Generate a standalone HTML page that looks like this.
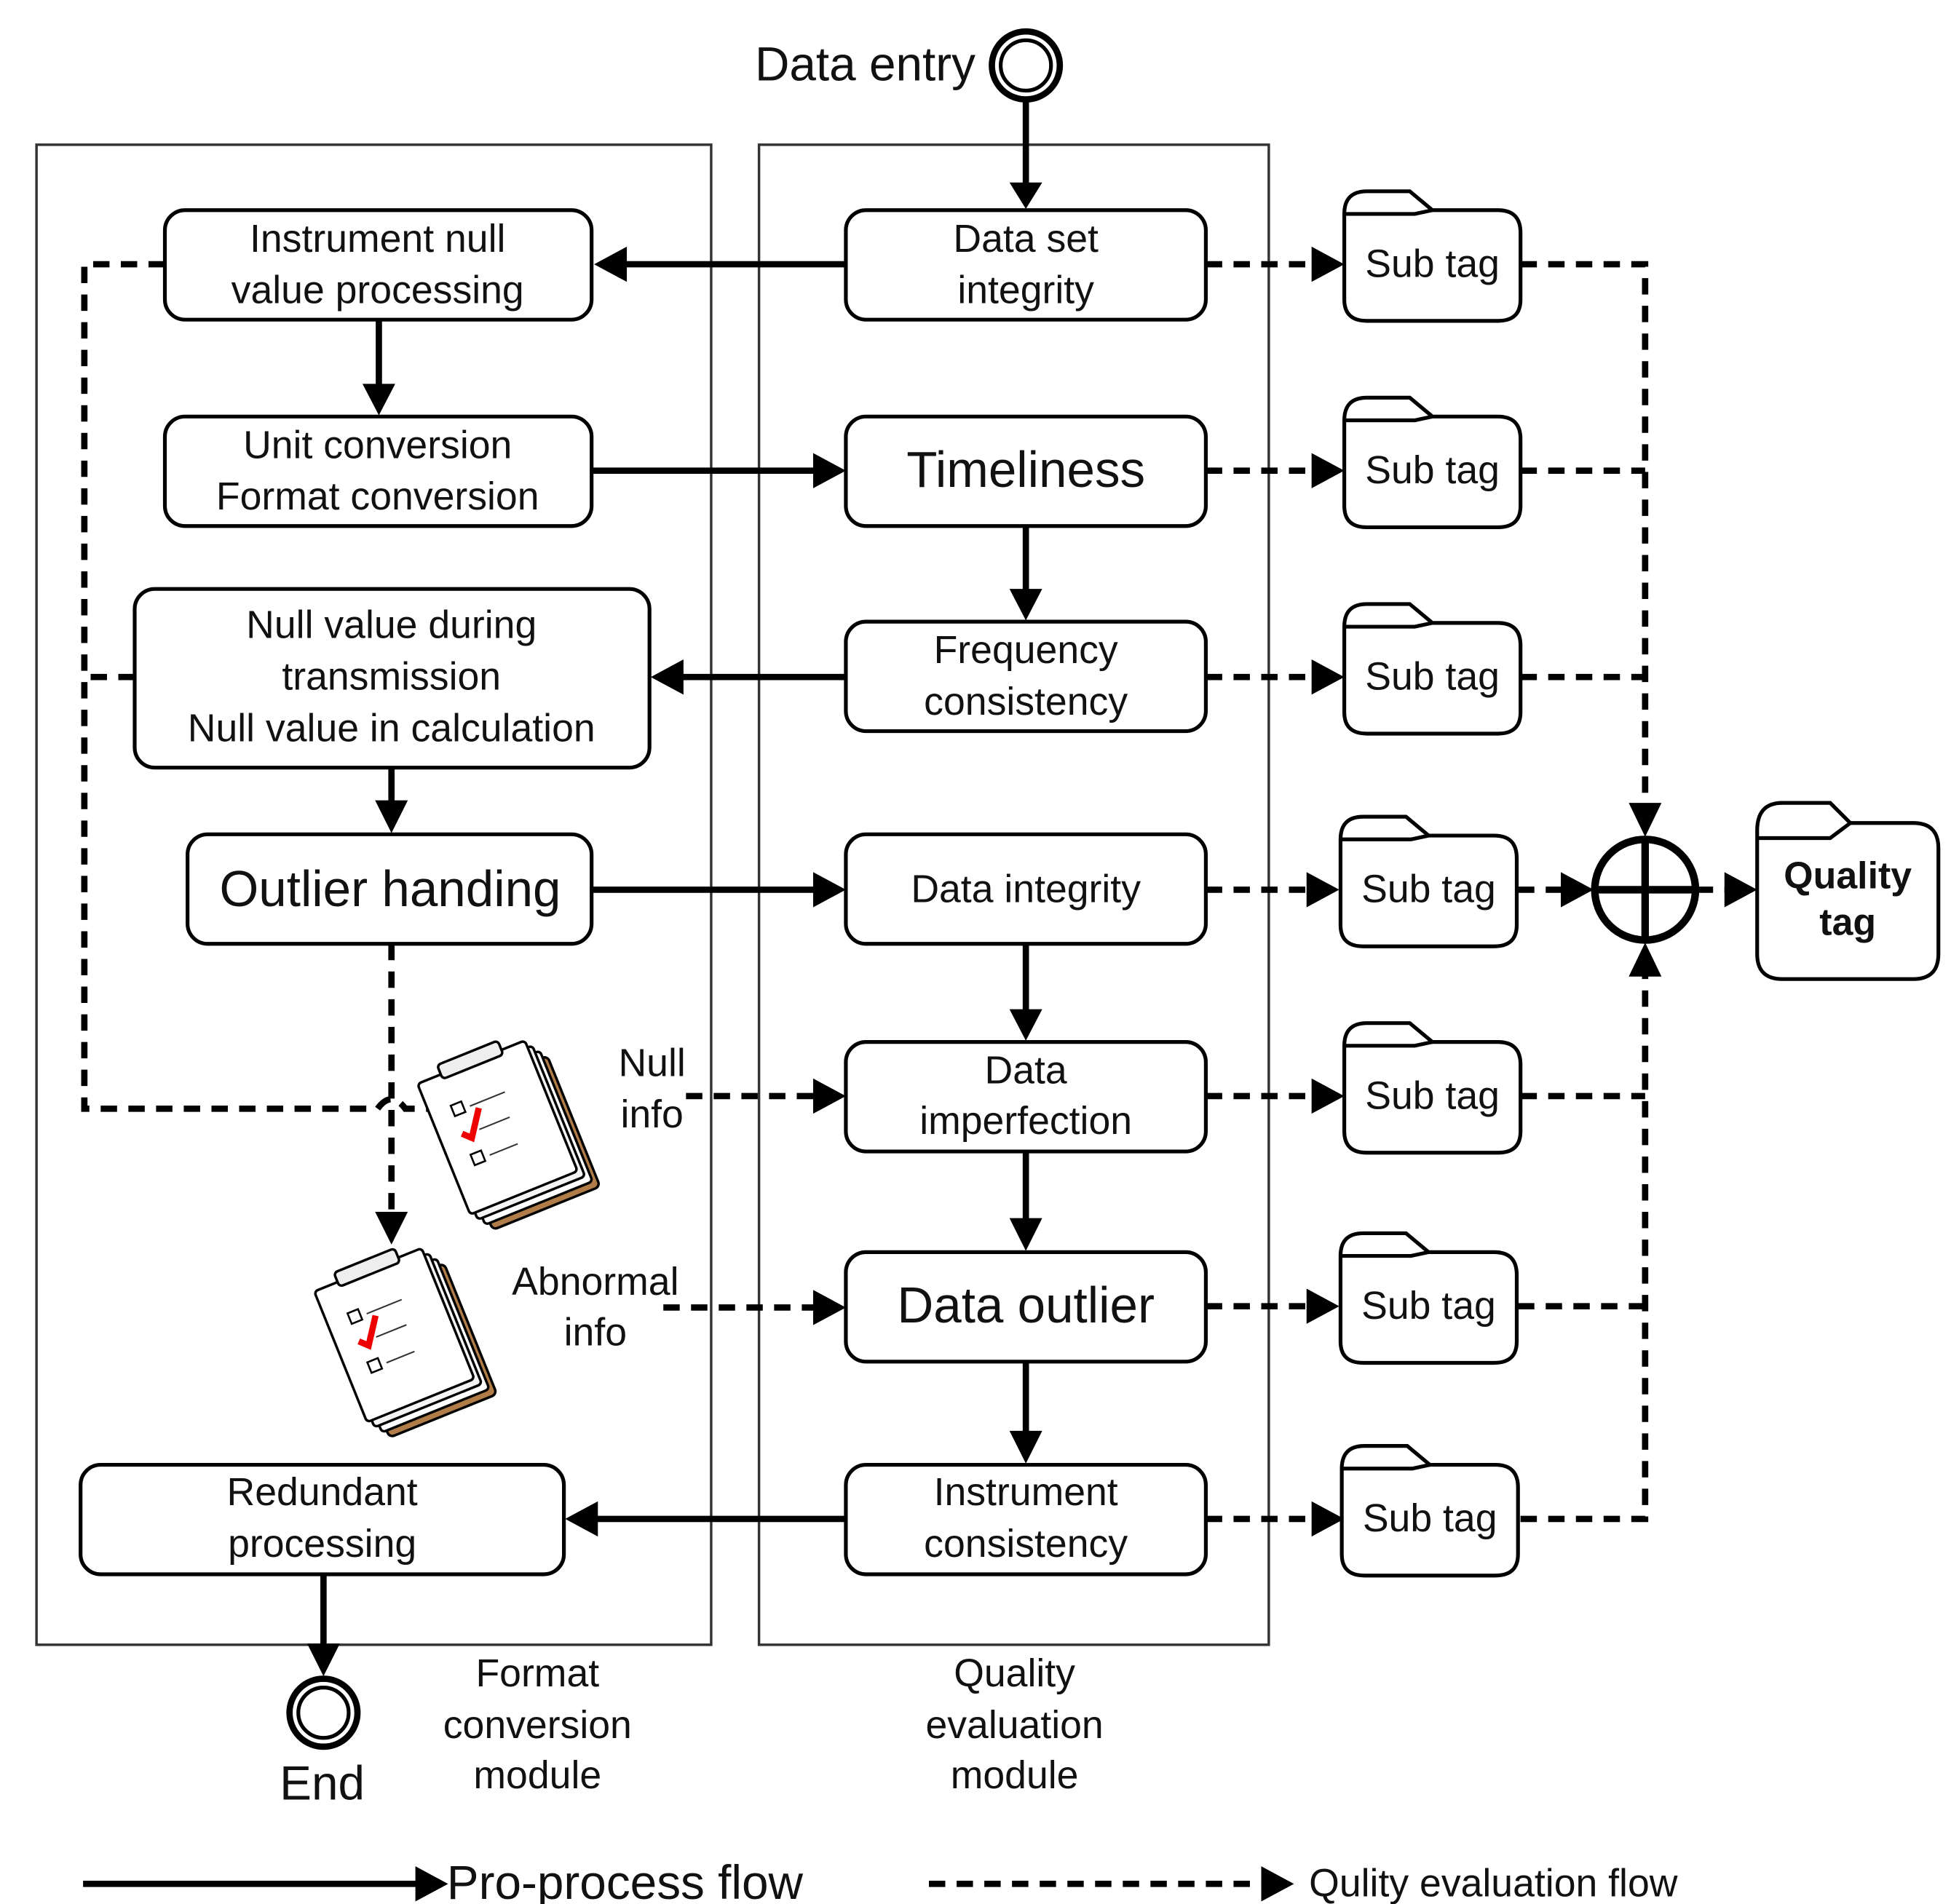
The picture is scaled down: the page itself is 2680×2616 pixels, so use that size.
<!DOCTYPE html>
<html><head><meta charset="utf-8"><style>
html,body{margin:0;padding:0;background:#fff;}
svg{display:block;}
text{font-family:"Liberation Sans",sans-serif;fill:#111;}
</style></head><body>
<svg width="2680" height="2616" viewBox="0 0 1550 1513" preserveAspectRatio="none" xmlns="http://www.w3.org/2000/svg">
<defs>
<marker id="a" markerWidth="10" markerHeight="10" refX="9" refY="5" orient="auto" markerUnits="userSpaceOnUse" viewBox="0 0 10 10">
</marker>
<g id="clip">
  <g transform="rotate(-22 60 70)">
    <rect x="12" y="22" width="92" height="112" rx="4" fill="#b07c48" stroke="#000" stroke-width="2"/>
    <rect x="8" y="16" width="92" height="112" rx="3" fill="#fff" stroke="#000" stroke-width="2"/>
    <rect x="4" y="10" width="92" height="112" rx="3" fill="#f4f4f4" stroke="#000" stroke-width="2"/>
    <rect x="0" y="4" width="92" height="112" rx="3" fill="#fff" stroke="#000" stroke-width="2"/>
    <rect x="20" y="-4" width="52" height="12" rx="3" fill="#eee" stroke="#000" stroke-width="2"/>
    <rect x="18" y="30" width="9" height="9" fill="none" stroke="#000" stroke-width="1.5"/>
    <rect x="18" y="72" width="9" height="9" fill="none" stroke="#000" stroke-width="1.5"/>
    <path d="M18 54 L24 60 L38 40" fill="none" stroke="#e00" stroke-width="5"/>
    <path d="M32 36h30M32 56h26M32 78h24" stroke="#333" stroke-width="1.2"/>
  </g>
</g>
</defs>
<style>
.bx{fill:#fff;stroke:#000;stroke-width:3;}
.s{stroke:#000;stroke-width:5;fill:none;}
.d{stroke:#000;stroke-width:5;fill:none;stroke-dasharray:13 9;}
.t{font-size:31px;text-anchor:middle;}
.tb{font-size:40px;text-anchor:middle;}
</style>

<!-- containers -->
<rect x="29" y="115" width="536" height="1192" fill="none" stroke="#333" stroke-width="2"/>
<rect x="603" y="115" width="405" height="1192" fill="none" stroke="#333" stroke-width="2"/>

<!-- data entry -->
<text x="775" y="64" font-size="38" text-anchor="end">Data entry</text>
<circle cx="815" cy="52" r="27" fill="#fff" stroke="#000" stroke-width="5"/>
<circle cx="815" cy="52" r="20" fill="none" stroke="#000" stroke-width="3"/>
<path class="s" d="M815 80V150"/><path d="M802 145h26l-13 21z"/>

<!-- solid flows -->
<path class="s" d="M672 210H495"/><path d="M472 210l26 -14v28z"/>
<path class="s" d="M301 254V310"/><path d="M288 305h26l-13 25z"/>
<path class="s" d="M470 374H648"/><path d="M672 374l-26 -14v28z"/>
<path class="s" d="M815 418V472"/><path d="M802 468h26l-13 25z"/>
<path class="s" d="M672 538H540"/><path d="M517 538l26 -14v28z"/>
<path class="s" d="M311 610V640"/><path d="M298 636h26l-13 26z"/>
<path class="s" d="M470 707H648"/><path d="M672 707l-26 -14v28z"/>
<path class="s" d="M815 750V806"/><path d="M802 802h26l-13 25z"/>
<path class="s" d="M815 915V972"/><path d="M802 968h26l-13 26z"/>
<path class="s" d="M815 1082V1140"/><path d="M802 1137h26l-13 26z"/>
<path class="s" d="M672 1207H472"/><path d="M449 1207l26 -14v28z"/>
<path class="s" d="M257 1251V1310"/><path d="M244 1306h26l-13 26z"/>

<!-- end -->
<circle cx="257" cy="1361" r="27" fill="#fff" stroke="#000" stroke-width="5"/>
<circle cx="257" cy="1361" r="20" fill="none" stroke="#000" stroke-width="3"/>
<text x="256" y="1430" font-size="38" text-anchor="middle">End</text>

<!-- left dotted loop -->
<path class="d" d="M131 210H67V881H300"/>
<path class="d" d="M107 538H67"/>
<path class="d" d="M300 881Q311 866 322 881H345"/>
<path d="M370 881l-26 -14v28z"/>
<path class="d" d="M311 750V965"/><path d="M298 963h26l-13 26z"/>

<!-- clipboards -->
<use href="#clip" transform="translate(352 830)"/>
<use href="#clip" transform="translate(270 995)"/>

<text x="518" y="855" class="t">Null</text>
<text x="518" y="896" class="t">info</text>
<text x="473" y="1029" class="t">Abnormal</text>
<text x="473" y="1069" class="t">info</text>
<path class="d" d="M545 871H648"/><path d="M672 871l-26 -14v28z"/>
<path class="d" d="M527 1039H648"/><path d="M672 1039l-26 -14v28z"/>

<!-- left boxes -->
<rect class="bx" x="131" y="167" width="339" height="87" rx="16"/>
<text class="t" x="300" y="200">Instrument null</text><text class="t" x="300" y="241">value processing</text>
<rect class="bx" x="131" y="331" width="339" height="87" rx="16"/>
<text class="t" x="300" y="364">Unit conversion</text><text class="t" x="300" y="405">Format conversion</text>
<rect class="bx" x="107" y="468" width="409" height="142" rx="16"/>
<text class="t" x="311" y="507">Null value during</text><text class="t" x="311" y="548">transmission</text><text class="t" x="311" y="589">Null value in calculation</text>
<rect class="bx" x="149" y="663" width="321" height="87" rx="16"/>
<text class="tb" x="310" y="720">Outlier handing</text>
<rect class="bx" x="64" y="1164" width="384" height="87" rx="16"/>
<text class="t" x="256" y="1196">Redundant</text><text class="t" x="256" y="1237">processing</text>

<!-- middle boxes -->
<rect class="bx" x="672" y="167" width="286" height="87" rx="16"/>
<text class="t" x="815" y="200">Data set</text><text class="t" x="815" y="241">integrity</text>
<rect class="bx" x="672" y="331" width="286" height="87" rx="16"/>
<text class="tb" x="815" y="387">Timeliness</text>
<rect class="bx" x="672" y="494" width="286" height="87" rx="16"/>
<text class="t" x="815" y="527">Frequency</text><text class="t" x="815" y="568">consistency</text>
<rect class="bx" x="672" y="663" width="286" height="87" rx="16"/>
<text class="t" x="815" y="717">Data integrity</text>
<rect class="bx" x="672" y="828" width="286" height="87" rx="16"/>
<text class="t" x="815" y="861">Data</text><text class="t" x="815" y="901">imperfection</text>
<rect class="bx" x="672" y="995" width="286" height="87" rx="16"/>
<text class="tb" x="815" y="1051">Data outlier</text>
<rect class="bx" x="672" y="1164" width="286" height="87" rx="16"/>
<text class="t" x="815" y="1196">Instrument</text><text class="t" x="815" y="1237">consistency</text>

<!-- sub tag dotted lines -->
<g>
<path class="d" d="M958 210H1044M1208 210H1307V640"/><path d="M1068 210l-26 -14v28z"/>
<path class="d" d="M958 374H1044M1208 374H1307"/><path d="M1068 374l-26 -14v28z"/>
<path class="d" d="M958 538H1044M1208 538H1307"/><path d="M1068 538l-26 -14v28z"/>
<path class="d" d="M958 707H1040M1206 707H1242"/><path d="M1064 707l-26 -14v28z"/><path d="M1266 707l-26 -14v28z"/>
<path class="d" d="M958 871H1044M1208 871H1307"/><path d="M1068 871l-26 -14v28z"/>
<path class="d" d="M958 1038H1040M1206 1038H1307"/><path d="M1064 1038l-26 -14v28z"/>
<path class="d" d="M958 1207H1044M1208 1207H1307V775"/><path d="M1068 1207l-26 -14v28z"/>
<path d="M1294 638h26l-13 27z"/>
<path d="M1294 776h26l-13 -27z"/>
<path class="d" d="M1348 707H1372"/><path d="M1396 707l-26 -14v28z"/>
</g>
<circle cx="1307" cy="707" r="40" fill="#fff" stroke="#000" stroke-width="6"/>
<path d="M1307 667V747M1267 707H1347" stroke="#000" stroke-width="6"/>

<!-- sub tags -->
<g id="st">
<path class="bx" d="M1068 170Q1068 152 1086 152H1120L1138 167H1190Q1208 167 1208 185V238Q1208 255 1190 255H1086Q1068 255 1068 238Z"/>
<path d="M1068 170H1124L1138 167" fill="none" stroke="#000" stroke-width="3"/>
<text class="t" x="1138" y="220">Sub tag</text>
</g>
<use href="#st" transform="translate(0 164)"/>
<use href="#st" transform="translate(0 328)"/>
<use href="#st" transform="translate(-3 497)"/>
<use href="#st" transform="translate(0 661)"/>
<use href="#st" transform="translate(-3 828)"/>
<use href="#st" transform="translate(-2 997)"/>

<!-- quality tag -->
<path class="bx" d="M1396 660Q1396 638 1416 638H1454L1470 654H1520Q1540 654 1540 674V758Q1540 778 1520 778H1416Q1396 778 1396 758Z"/>
<path d="M1396 666H1454L1470 654" fill="none" stroke="#000" stroke-width="3"/>
<text x="1468" y="706" font-size="30" font-weight="bold" text-anchor="middle">Quality</text>
<text x="1468" y="743" font-size="30" font-weight="bold" text-anchor="middle">tag</text>

<!-- module labels -->
<text class="t" x="427" y="1340">Format</text><text class="t" x="427" y="1381">conversion</text><text class="t" x="427" y="1421">module</text>
<text class="t" x="806" y="1340">Quality</text><text class="t" x="806" y="1381">evaluation</text><text class="t" x="806" y="1421">module</text>

<!-- legend -->
<path class="s" d="M66 1497H332"/><path d="M356 1497l-26 -14v28z"/>
<text x="355" y="1509" font-size="38">Pro-process flow</text>
<path class="d" d="M738 1497H1004"/><path d="M1028 1497l-26 -14v28z"/>
<text x="1040" y="1507" font-size="31">Qulity evaluation flow</text>
</svg>
</body></html>
